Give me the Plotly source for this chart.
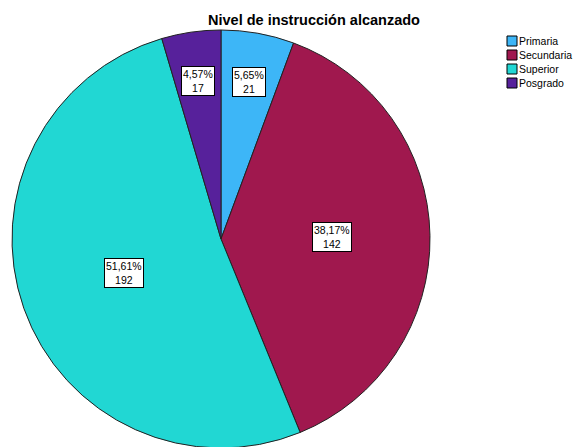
import numpy as np
import plotly.graph_objects as go

# datos
categorias = ["Primaria", "Secundaria", "Superior", "Posgrado"]
frecuencias = [21, 142, 192, 17]
porcentajes = ["5,65%", "38,17%", "51,61%", "4,57%"]
colores = ["#3DB6F7", "#A0184E", "#21D7D3", "#57219B"]

W, H = 582, 447
off = 8                      # margen del body de la pagina
cx, cy, r = 221 - off, 239 - off, 209   # centro y radio del pastel en pixeles
fuente = "Liberation Sans, Arial, sans-serif"

fig = go.Figure()
fig.add_trace(go.Pie(
    labels=categorias, values=frecuencias, sort=False,
    direction="clockwise", rotation=0,
    marker=dict(colors=colores, line=dict(color="#222222", width=1)),
    textinfo="none", hoverinfo="label+value+percent",
    showlegend=False,
    domain=dict(x=[(cx - r) / W, (cx + r) / W],
                y=[(H - cy - r) / H, (H - cy + r) / H]),
))

# etiquetas con caja, en el angulo medio de cada porcion
total = sum(frecuencias)
acum = np.cumsum([0] + frecuencias[:-1])
radio_etiqueta = [0.765, 0.53, 0.49, 0.765]
for f, a, p, rr in zip(frecuencias, acum, porcentajes, radio_etiqueta):
    ang = 2 * np.pi * (a + f / 2) / total
    px_ = cx + rr * r * np.sin(ang)
    py_ = cy - rr * r * np.cos(ang)
    fig.add_annotation(
        x=px_ / W, y=1 - py_ / H, xref="paper", yref="paper",
        xanchor="center", yanchor="middle",
        text=f"{p}<br>{f}", showarrow=False,
        font=dict(family=fuente, size=10.5, color="black"),
        bgcolor="white", bordercolor="black", borderwidth=1, borderpad=1,
    )

# titulo
fig.add_annotation(
    x=(314 - off) / W, y=1 - (20 - off) / H, xref="paper", yref="paper",
    xanchor="center", yanchor="middle",
    text="<b>Nivel de instrucción alcanzado</b>", showarrow=False,
    font=dict(family=fuente, size=14.5, color="black"),
)

# leyenda (estilo SPSS, cuadros pequeños)
for i, (cat, col) in enumerate(zip(categorias, colores)):
    yc = 41 + 14 * i - off
    fig.add_shape(type="rect", xref="paper", yref="paper",
                  x0=(507 - off) / W, x1=(517 - off) / W,
                  y0=1 - (yc - 5) / H, y1=1 - (yc + 5) / H,
                  fillcolor=col, line=dict(color="black", width=1))
    fig.add_annotation(x=(517 - off) / W, y=1 - yc / H, xref="paper", yref="paper",
                       xanchor="left", yanchor="middle", text=cat, showarrow=False,
                       font=dict(family=fuente, size=10.5, color="black"))

fig.update_layout(
    width=W, height=H, margin=dict(l=0, r=0, t=0, b=0),
    paper_bgcolor="white", plot_bgcolor="white",
    font=dict(family=fuente, size=11, color="black"),
)
fig.write_html("out.html")
